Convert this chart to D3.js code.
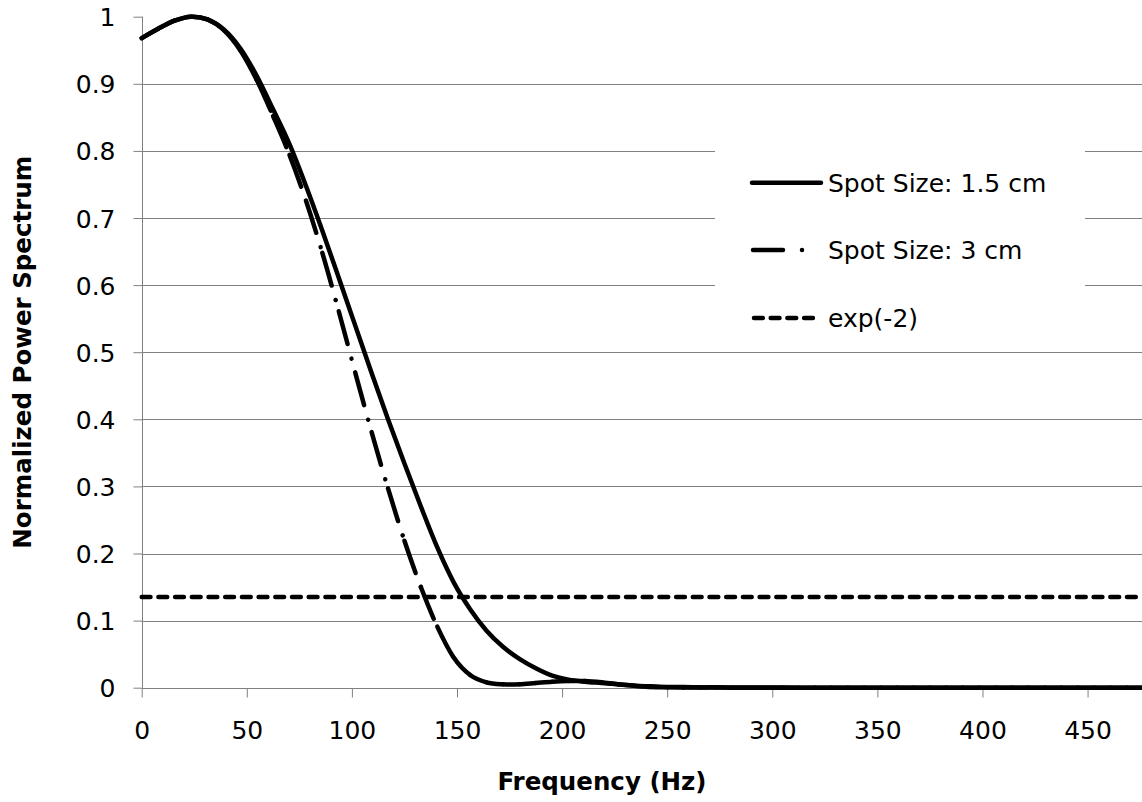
<!DOCTYPE html>
<html><head><meta charset="utf-8">
<script src="https://cdn.jsdelivr.net/npm/d3@7"></script>
<style>html,body{margin:0;padding:0;background:#fff;}svg{display:block;}</style>
</head><body>
<svg id="chart" width="1142" height="802"></svg>
<script>
const freqs = [0, 7.8125, 15.625, 23.4375, 31.25, 39.0625, 46.875, 54.6875, 62.5, 70.3125,
  78.125, 85.9375, 93.75, 101.5625, 109.375, 117.1875, 125, 132.8125, 140.625, 148.4375,
  156.25, 164.0625, 171.875, 179.6875, 187.5, 195.3125, 203.125, 210.9375, 218.75, 226.5625,
  234.375, 242.1875, 250, 257.8125, 265.625, 273.4375, 281.25, 289.0625, 296.875, 304.6875,
  312.5, 320.3125, 328.125, 335.9375, 343.75, 351.5625, 359.375, 367.1875, 375, 382.8125,
  390.625, 398.4375, 406.25, 414.0625, 421.875, 429.6875, 437.5, 445.3125, 453.125, 460.9375,
  468.75, 476.5625];
const spot15 = [0.968, 0.982, 0.994, 1.000, 0.996, 0.981, 0.953, 0.912, 0.862, 0.810,
  0.748, 0.681, 0.611, 0.540, 0.469, 0.400, 0.334, 0.270, 0.209, 0.157,
  0.117, 0.085, 0.061, 0.043, 0.029, 0.018, 0.012, 0.009, 0.007, 0.005,
  0.003, 0.002, 0.001, 0.001, 0.0005, 0.0005, 0.0003, 0.0003, 0.0002, 0.0002,
  0.0001, 0.0001, 0.0001, 0, 0, 0, 0, 0, 0, 0,
  0, 0, 0, 0, 0, 0, 0, 0, 0, 0,
  0, 0];
const spot3 = [0.968, 0.982, 0.994, 1.000, 0.996, 0.980, 0.950, 0.906, 0.852, 0.794,
  0.726, 0.648, 0.561, 0.470, 0.381, 0.297, 0.219, 0.150, 0.091, 0.045,
  0.019, 0.008, 0.005, 0.005, 0.007, 0.009, 0.010, 0.010, 0.008, 0.005,
  0.003, 0.001, 0.0005, 0.0003, 0.0003, 0.0002, 0.0001, 0.0001, 0, 0,
  0, 0, 0, 0, 0, 0, 0, 0, 0, 0,
  0, 0, 0, 0, 0, 0, 0, 0, 0, 0,
  0, 0];
const expFreqs = [0, 476.5625];
const expVals = [0.1353, 0.1353];
const seriesNames = ["Spot Size: 1.5 cm", "Spot Size: 3 cm", "exp(-2)"];
const xTicks = [0, 50, 100, 150, 200, 250, 300, 350, 400, 450];
const yTicks = [0, 0.1, 0.2, 0.3, 0.4, 0.5, 0.6, 0.7, 0.8, 0.9, 1];
const xTitle = "Frequency (Hz)";
const yTitle = "Normalized Power Spectrum";

const svg = d3.select("#chart");
const x = d3.scaleLinear().domain([0, 476.5625]).range([141.7, 1143.4]);
const y = d3.scaleLinear().domain([0, 1]).range([687.7, 16.7]);
const FONT = "'DejaVu Sans', Verdana, sans-serif";
const FS = "25px";
const LW = 4.5;

// gridlines (no gridline at top 1.0)
svg.append("g").selectAll("line").data(yTicks.filter(t => t > 0 && t < 1)).join("line")
  .attr("x1", x(0)).attr("x2", 1142)
  .attr("y1", d => Math.round(y(d)) + 0.5).attr("y2", d => Math.round(y(d)) + 0.5)
  .attr("stroke", "#808080").attr("stroke-width", 1);

// legend background
svg.append("rect").attr("x", 715).attr("y", 128).attr("width", 370).attr("height", 205).attr("fill", "#fff");

// axes
const yAxis = d3.axisLeft(y).tickValues(yTicks).tickSize(9).tickPadding(18)
  .tickFormat(d => d3.format("")(+d.toFixed(1)));
const gy = svg.append("g").attr("transform", `translate(${Math.round(x(0)) + 0.5},0)`).call(yAxis);
const xAxis = d3.axisBottom(x).tickValues(xTicks).tickSize(9).tickPadding(24).tickFormat(d3.format("d"));
const gx = svg.append("g").attr("transform", `translate(0,${Math.round(y(0)) + 0.5})`).call(xAxis);
[gx, gy].forEach(g => {
  g.select(".domain").attr("stroke", "#808080");
  g.selectAll(".tick line").attr("stroke", "#808080");
  g.selectAll("text").attr("font-family", FONT).attr("font-size", FS).attr("fill", "#000");
});
gx.select(".domain").attr("d", `M${x(0)},0H1142`);
gy.select(".domain").attr("d", `M0,${y(1)}V${y(0)}`);
gy.selectAll(".tick text").attr("dy", "0.36em");

// series 1.5 cm: smooth solid
const pts15 = freqs.map((f, i) => [x(f), y(spot15[i])]);
const pts3 = freqs.map((f, i) => [x(f), y(spot3[i])]);
const line = d3.line().curve(d3.curveCardinal.tension(0));
svg.append("path").attr("d", line(pts15)).attr("fill", "none").attr("stroke", "#000")
  .attr("stroke-width", LW).attr("stroke-linejoin", "round").attr("stroke-linecap", "round");

// series 3 cm: long dash-dot, pattern restarting on each data segment
const segG = svg.append("g");
for (let i = 0; i < pts3.length - 1; i++) {
  const p0 = pts3[Math.max(i - 1, 0)], p1 = pts3[i], p2 = pts3[i + 1], p3 = pts3[Math.min(i + 2, pts3.length - 1)];
  const c1 = [p1[0] + (p2[0] - p0[0]) / 6, p1[1] + (p2[1] - p0[1]) / 6];
  const c2 = [p2[0] - (p3[0] - p1[0]) / 6, p2[1] - (p3[1] - p1[1]) / 6];
  const p = d3.path();
  p.moveTo(p1[0], p1[1]);
  p.bezierCurveTo(c1[0], c1[1], c2[0], c2[1], p2[0], p2[1]);
  segG.append("path").attr("d", p.toString()).attr("fill", "none").attr("stroke", "#000")
    .attr("stroke-width", LW).attr("stroke-linecap", "round")
    .attr("stroke-dasharray", "34,15,0.01,15");
}

// exp(-2) line
const ptsE = expFreqs.map((f, i) => [x(f), y(expVals[i])]);
svg.append("path").attr("d", d3.line()(ptsE)).attr("fill", "none").attr("stroke", "#000")
  .attr("stroke-width", LW).attr("stroke-linecap", "round").attr("stroke-dasharray", "8.8,7.9");

// legend
const legY = [182.7, 250, 318];
const leg = svg.append("g");
leg.append("line").attr("x1", 752).attr("x2", 821).attr("y1", legY[0]).attr("y2", legY[0])
  .attr("stroke", "#000").attr("stroke-width", LW).attr("stroke-linecap", "round");
leg.append("line").attr("x1", 753).attr("x2", 804).attr("y1", legY[1]).attr("y2", legY[1])
  .attr("stroke", "#000").attr("stroke-width", LW).attr("stroke-linecap", "round")
  .attr("stroke-dasharray", "30,19,0.01,100");
leg.append("line").attr("x1", 754).attr("x2", 818).attr("y1", legY[2]).attr("y2", legY[2])
  .attr("stroke", "#000").attr("stroke-width", LW).attr("stroke-linecap", "round")
  .attr("stroke-dasharray", "8.8,7.9");
leg.selectAll("text").data(seriesNames).join("text")
  .attr("x", 828).attr("y", (d, i) => legY[i] + 9)
  .attr("font-family", FONT).attr("font-size", FS).attr("fill", "#000").text(d => d);

// axis titles
svg.append("text").attr("x", 602).attr("y", 790).attr("text-anchor", "middle")
  .attr("font-family", FONT).attr("font-weight", "bold").attr("font-size", "24.5px").text(xTitle);
svg.append("text").attr("transform", `translate(31,${y(0.5)}) rotate(-90)`).attr("text-anchor", "middle")
  .attr("font-family", FONT).attr("font-weight", "bold").attr("font-size", "24.5px").text(yTitle);
</script>
</body></html>
